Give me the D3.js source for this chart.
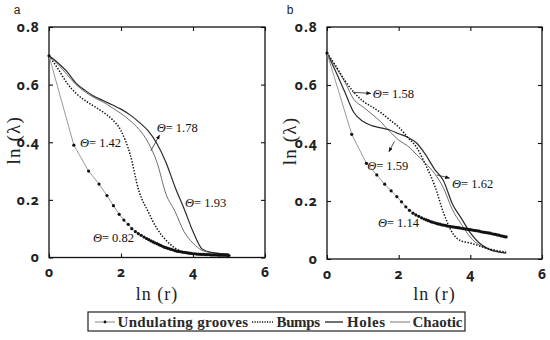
<!DOCTYPE html>
<html><head><meta charset="utf-8">
<script src="https://cdn.jsdelivr.net/npm/d3@7"></script>
<style>
html,body{margin:0;padding:0;background:#fff;}
svg{display:block;}
.tick text{font-variant-numeric:oldstyle-nums;font-feature-settings:"onum" 1;}
</style></head>
<body>
<svg id="chart" width="550" height="340"></svg>
<script>
// ---------- DATA ----------
const xTicks = [0, 2, 4, 6];
const yTicks = [0, 0.2, 0.4, 0.6, 0.8];
const xTickLabels = ["0", "2", "4", "6"];
const yTickLabels = ["0", "0.2", "0.4", "0.6", "0.8"];
const seriesNames = ["Undulating grooves", "Bumps", "Holes", "Chaotic"];

// sampling of the "Undulating grooves" series (ln r)
const unduX = [0, 0.69, 1.10, 1.39, 1.61, 1.79, 1.95, 2.08, 2.20, 2.30, 2.40, 2.48, 2.56, 2.64, 2.71, 2.77, 2.83, 2.89, 2.94, 3.00,
  3.05, 3.10, 3.15, 3.20, 3.25, 3.30, 3.35, 3.40, 3.45, 3.50, 3.55, 3.60, 3.65, 3.70, 3.75, 3.80, 3.85, 3.90, 3.95, 4.00,
  4.05, 4.10, 4.15, 4.20, 4.25, 4.30, 4.35, 4.40, 4.45, 4.50, 4.55, 4.60, 4.65, 4.70, 4.75, 4.80, 4.85, 4.90, 4.95, 5.00];
const unduA = [0.70, 0.39, 0.30, 0.255, 0.215, 0.18, 0.15, 0.13, 0.115, 0.10, 0.09, 0.083, 0.077, 0.071, 0.066, 0.062, 0.058, 0.054, 0.051, 0.048,
  0.045, 0.042, 0.039, 0.036, 0.034, 0.032, 0.030, 0.028, 0.026, 0.024, 0.022, 0.021, 0.020, 0.019, 0.018, 0.017, 0.016, 0.015, 0.014, 0.013,
  0.013, 0.012, 0.012, 0.011, 0.011, 0.011, 0.010, 0.010, 0.010, 0.009, 0.009, 0.009, 0.009, 0.008, 0.008, 0.008, 0.008, 0.008, 0.007, 0.007];
const unduB = [0.71, 0.43, 0.33, 0.29, 0.258, 0.235, 0.215, 0.197, 0.18, 0.168, 0.158, 0.152, 0.147, 0.142, 0.138, 0.135, 0.132, 0.129, 0.127, 0.125,
  0.123, 0.121, 0.120, 0.118, 0.117, 0.116, 0.114, 0.113, 0.112, 0.111, 0.110, 0.109, 0.108, 0.107, 0.106, 0.105, 0.104, 0.103, 0.102, 0.101,
  0.100, 0.099, 0.098, 0.097, 0.096, 0.094, 0.093, 0.092, 0.091, 0.090, 0.089, 0.087, 0.086, 0.085, 0.083, 0.082, 0.080, 0.079, 0.077, 0.076];

// sampling of the other three series
const curveX = [0, 0.25, 0.5, 0.75, 1, 1.25, 1.5, 1.75, 2, 2.25, 2.5, 2.75, 3, 3.25, 3.5, 3.75, 4, 4.25, 4.5, 5];
const bumpsA   = [0.70, 0.655, 0.605, 0.57, 0.545, 0.525, 0.505, 0.48, 0.44, 0.36, 0.23, 0.16, 0.10, 0.06, 0.033, 0.018, 0.012, 0.010, 0.009, 0.007];
const holesA   = [0.70, 0.675, 0.645, 0.605, 0.58, 0.56, 0.545, 0.53, 0.515, 0.495, 0.47, 0.44, 0.395, 0.33, 0.245, 0.17, 0.09, 0.03, 0.018, 0.012];
const chaoticA = [0.70, 0.67, 0.635, 0.60, 0.575, 0.555, 0.54, 0.52, 0.50, 0.475, 0.445, 0.40, 0.33, 0.22, 0.16, 0.09, 0.05, 0.025, 0.017, 0.012];
const bumpsB   = [0.71, 0.665, 0.615, 0.575, 0.545, 0.525, 0.505, 0.48, 0.455, 0.42, 0.385, 0.325, 0.255, 0.16, 0.09, 0.062, 0.055, 0.045, 0.036, 0.024];
const holesB   = [0.71, 0.645, 0.575, 0.505, 0.475, 0.46, 0.452, 0.445, 0.432, 0.42, 0.40, 0.36, 0.31, 0.27, 0.19, 0.14, 0.09, 0.055, 0.035, 0.02];
const chaoticB = [0.71, 0.66, 0.61, 0.55, 0.525, 0.50, 0.473, 0.44, 0.41, 0.39, 0.36, 0.33, 0.295, 0.245, 0.17, 0.12, 0.075, 0.048, 0.034, 0.021];

// Θ annotations: [value, x, y] (text anchor in data coordinates)
const thetaA = [["0.82", 1.22, 0.054], ["1.42", 0.86, 0.384], ["1.78", 2.99, 0.436], ["1.93", 3.78, 0.176]];
const thetaB = [["1.58", 1.28, 0.555], ["1.59", 1.12, 0.307], ["1.62", 3.49, 0.245], ["1.14", 1.42, 0.11]];
// arrows: [x1, y1, x2, y2] (from curve to label)
const arrowsA = [[2.83, 0.37, 3.07, 0.425]];
const arrowsB = [[0.72, 0.575, 1.22, 0.571], [1.88, 0.405, 1.73, 0.37], [3.06, 0.29, 3.42, 0.279]];

// ---------- DRAWING ----------
const svg = d3.select("#chart");
const defs = svg.append("defs");
defs.append("marker").attr("id", "ah").attr("viewBox", "0 0 10 10")
  .attr("refX", 9).attr("refY", 5).attr("markerWidth", 6).attr("markerHeight", 6)
  .attr("orient", "auto-start-reverse")
  .append("path").attr("d", "M0,1 L10,5 L0,9 z").attr("fill", "#111");

const tickFont = "'Noto Sans', Lato, sans-serif";
const serif = "'Liberation Serif', 'DejaVu Serif', serif";

const panels = [
  {tag: "a", left: 49, right: 265, top: 27, bottom: 257.5, undu: unduA, bumps: bumpsA, holes: holesA, chaotic: chaoticA, theta: thetaA, arrows: arrowsA, tagX: 17, ylabX: 14},
  {tag: "b", left: 327, right: 542, top: 27, bottom: 259, undu: unduB, bumps: bumpsB, holes: holesB, chaotic: chaoticB, theta: thetaB, arrows: arrowsB, tagX: 290, ylabX: 290}
];

panels.forEach(p => {
  const x = d3.scaleLinear().domain([0, 6]).range([p.left, p.right]);
  const y = d3.scaleLinear().domain([0, 0.8]).range([p.bottom, p.top]);
  const g = svg.append("g");

  // ticks (inward, all four sides)
  const axB = d3.axisBottom(x).tickValues(xTicks).tickSize(-4).tickFormat((d, i) => xTickLabels[i]).tickPadding(10);
  const axT = d3.axisTop(x).tickValues(xTicks).tickSize(-4).tickFormat("");
  const axL = d3.axisLeft(y).tickValues(yTicks).tickSize(-4).tickFormat((d, i) => yTickLabels[i]).tickPadding(9);
  const axR = d3.axisRight(y).tickValues(yTicks).tickSize(-4).tickFormat("");
  [[axB, `translate(0,${p.bottom})`], [axT, `translate(0,${p.top})`], [axL, `translate(${p.left},0)`], [axR, `translate(${p.right},0)`]]
    .forEach(([ax, tr]) => {
      const a = g.append("g").attr("transform", tr).call(ax);
      a.select(".domain").remove();
      a.selectAll(".tick line").attr("stroke", "#111").attr("stroke-width", 1.1);
      a.selectAll(".tick text").attr("fill", "#222").style("font-family", tickFont)
        .style("font-weight", "700").style("font-size", "14px").style("letter-spacing", "1px");
    });

  // frame
  g.append("rect").attr("x", p.left).attr("y", p.top).attr("width", p.right - p.left).attr("height", p.bottom - p.top)
    .attr("fill", "none").attr("stroke", "#111").attr("stroke-width", 1.3);

  const smooth = d3.line().x(d => x(d[0])).y(d => y(d[1])).curve(d3.curveMonotoneX);
  const straight = d3.line().x(d => x(d[0])).y(d => y(d[1]));

  const zip = (xs, ys) => xs.map((v, i) => [v, ys[i]]);

  // Chaotic
  g.append("path").attr("d", smooth(zip(curveX, p.chaotic))).attr("fill", "none").attr("stroke", "#6e6e6e").attr("stroke-width", 1);
  // Holes
  g.append("path").attr("d", smooth(zip(curveX, p.holes))).attr("fill", "none").attr("stroke", "#2a2a2a").attr("stroke-width", 1.2);
  // Bumps
  g.append("path").attr("d", smooth(zip(curveX, p.bumps))).attr("fill", "none").attr("stroke", "#111").attr("stroke-width", 1.5).attr("stroke-dasharray", "1.4,1.6");
  // Undulating grooves
  const ud = zip(unduX, p.undu);
  g.append("path").attr("d", straight(ud)).attr("fill", "none").attr("stroke", "#9a9a9a").attr("stroke-width", 1);
  g.selectAll(".pt").data(ud).enter().append("circle").attr("cx", d => x(d[0])).attr("cy", d => y(d[1]))
    .attr("r", 1.6).attr("fill", "#111");

  // annotations
  p.theta.forEach(t => {
    const tx = g.append("text").attr("x", x(t[1])).attr("y", y(t[2])).style("font-family", serif).style("font-size", "12.5px").attr("fill", "#111");
    tx.append("tspan").style("font-style", "italic").text("Θ");
    tx.append("tspan").text("= " + t[0]);
  });
  p.arrows.forEach(a => {
    g.append("line").attr("x1", x(a[0])).attr("y1", y(a[1])).attr("x2", x(a[2])).attr("y2", y(a[3]))
      .attr("stroke", "#222").attr("stroke-width", 0.8).attr("marker-end", "url(#ah)");
  });

  // axis titles
  const cx = (p.left + p.right) / 2, cy = (p.top + p.bottom) / 2;
  g.append("text").attr("x", cx).attr("y", 300).attr("text-anchor", "middle")
    .style("font-family", serif).style("font-size", "18px").style("letter-spacing", "1px").attr("fill", "#222").text("ln (r)");
  g.append("text").attr("transform", `translate(${p.ylabX + 6},${cy - 2}) rotate(-90)`).attr("text-anchor", "middle")
    .style("font-family", serif).style("font-size", "19px").style("letter-spacing", "1.2px").attr("fill", "#222").text("ln (λ)");
  // panel tag
  g.append("text").attr("x", p.tagX).attr("y", 14).attr("text-anchor", "middle")
    .style("font-family", "'Liberation Sans', Arial, sans-serif").style("font-size", "12px").attr("fill", "#222").text(p.tag);
});

// ---------- LEGEND ----------
const lg = svg.append("g");
const lgTop = 312, lgBot = 331, lgMid = 322;
const lgLeft = 88, lgRight = 465;
// [sample start, sample end, text start, text end] per entry
const lgSlots = [[95, 115, 117.5, 248], [252, 273, 276.5, 320], [325, 343, 347, 385], [390, 410, 412.5, 462.5]];
const samples = [
  (s, a, b) => { s.append("line").attr("x1", a).attr("x2", b).attr("y1", lgMid).attr("y2", lgMid).attr("stroke", "#888").attr("stroke-width", 1);
                 s.append("circle").attr("cx", (a + b) / 2).attr("cy", lgMid).attr("r", 1.4).attr("fill", "#111"); },
  (s, a, b) => s.append("line").attr("x1", a).attr("x2", b).attr("y1", lgMid).attr("y2", lgMid).attr("stroke", "#111").attr("stroke-width", 1.3).attr("stroke-dasharray", "1.2,1.3"),
  (s, a, b) => s.append("line").attr("x1", a).attr("x2", b).attr("y1", lgMid).attr("y2", lgMid).attr("stroke", "#222").attr("stroke-width", 1.3),
  (s, a, b) => s.append("line").attr("x1", a).attr("x2", b).attr("y1", lgMid).attr("y2", lgMid).attr("stroke", "#777").attr("stroke-width", 1)
];
lg.append("rect").attr("x", lgLeft).attr("y", lgTop).attr("width", lgRight - lgLeft).attr("height", lgBot - lgTop)
  .attr("fill", "#fff").attr("stroke", "#222").attr("stroke-width", 1.2);
seriesNames.forEach((name, i) => {
  const sl = lgSlots[i];
  samples[i](lg, sl[0], sl[1]);
  lg.append("text").attr("x", sl[2]).attr("y", lgMid + 5).style("font-family", serif).style("font-weight", "700")
    .style("font-size", "15px").attr("fill", "#2a2a2a")
    .attr("textLength", sl[3] - sl[2]).attr("lengthAdjust", "spacing").text(name);
});
</script>
</body></html>
